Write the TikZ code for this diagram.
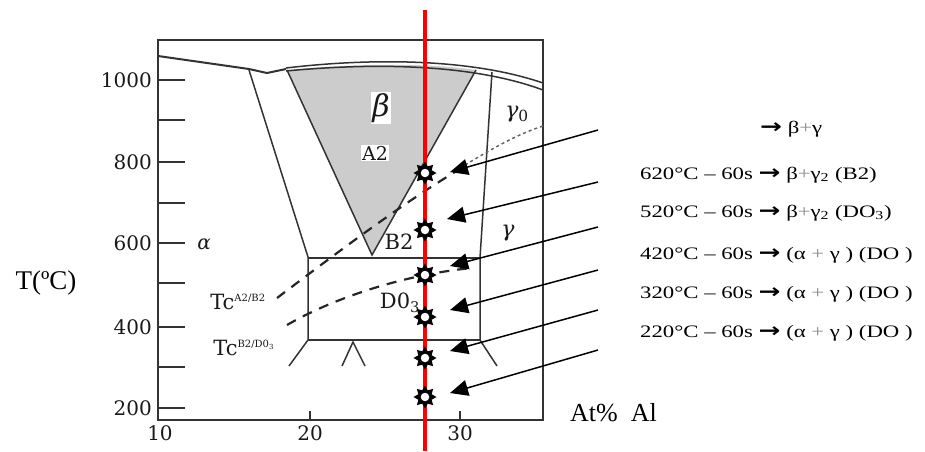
\documentclass[tikz,border=0pt]{standalone}
\usepackage{fontspec}
\setmainfont{Liberation Serif}
\newfontfamily\symf{DejaVu Sans}
\newfontfamily\scanf{DejaVu Serif}
\usetikzlibrary{arrows.meta,shapes.geometric}
\newcommand{\harr}{{\symf\bfseries\scalebox{1.15}{→}}}
\newcommand{\gplus}{{\color{black!45}+}}
\newcommand{\wide}[1]{\scalebox{1.3}[1]{#1}}
\begin{document}
\begin{tikzpicture}[x=1pt,y=-1pt,
 ph/.style={draw=black!80,line width=1.5pt},
 tick/.style={draw=black!80,line width=1.5pt},
 ylab/.style={font=\scanf\fontsize{20}{20}\selectfont,anchor=east,inner sep=0,text=black!90},
 xlab/.style={font=\scanf\fontsize{20}{20}\selectfont,anchor=north,inner sep=0,text=black!90},
 plab/.style={font=\scanf\fontsize{21}{21}\selectfont,inner sep=1pt,text=black!90},
 tcdash/.style={draw=black!85,line width=2.2pt,dash pattern=on 10pt off 8pt},
 rlab/.style={font=\fontsize{17.5}{17.5}\selectfont,anchor=base west,inner sep=0},
 hotstar/.style={star,star points=8,star point ratio=1.6,minimum size=23pt,inner sep=0,fill=black},
 hole/.style={circle,fill=white,minimum size=8.5pt,inner sep=0},
 callout/.style={draw=black,line width=1.5pt,-{Triangle[length=18pt,width=16pt]}},
]
\useasboundingbox (0,0) rectangle (925,451);

% shaded beta region
\fill[gray!40] (287,70) .. controls (360,63) and (430,63) .. (476,70) -- (372,255) -- cycle;
\draw[ph] (287,70) -- (372,255) -- (476,70);

% frame
\draw[ph,line width=1.2pt] (158,40) rectangle (543,420);
\draw[ph,line width=1.8pt] (158,420) -- (543,420);
\draw[ph,line width=1.8pt] (158,40) -- (158,420);

% liquidus / solidus
\draw[ph,line width=2pt] (158,56) -- (249,69) -- (267,73) -- (286,69);
\draw[ph] (286,68) .. controls (370,58) and (470,58) .. (543,83);
\draw[ph] (286,71) .. controls (370,63) and (470,63) .. (543,90);

% phase boundaries
\draw[ph] (249,70) -- (308,257) -- (308,340) -- (289,366);
\draw[ph] (308,258) -- (480,258);
\draw[ph] (492,72) -- (480,258) -- (480,340);
\draw[ph] (308,340) -- (480,340);
\draw[ph] (480,340) -- (497,366);
\draw[ph] (342,366) -- (353,342) -- (365,366);

% ticks
\foreach \yy in {80,120,162,203,243,283,327,367,408}
  \draw[tick] (158,\yy) -- (185,\yy);
\draw[tick] (310,420) -- (310,411);
\draw[tick] (460,420) -- (460,411);

% tick labels
\node[ylab] (y1000) at (152,80) {1000};
\node[ylab] (y800) at (152,162) {800};
\node[ylab] (y600) at (152,243) {600};
\node[ylab] (y400) at (152,327) {400};
\node[ylab] (y200) at (152,408) {200};
\node[xlab] (x10) at (160,425) {10};
\node[xlab] (x20) at (310,425) {20};
\node[xlab] (x30) at (460,425) {30};

% Tc lines
\draw[tcdash] (277,298) .. controls (330,258) and (400,205) .. (455,172);
\draw[black!60,line width=1.5pt,dash pattern=on 3pt off 3pt] (460,168) .. controls (490,150) and (515,135) .. (543,126);
\draw[tcdash] (287,325) .. controls (330,300) and (400,275) .. (472,268);

% phase labels
\node[plab,fill=white,font=\scanf\itshape\fontsize{30}{30}\selectfont] (beta) at (381,108) {β};
\node[plab,fill=white,font=\scanf\fontsize{19}{19}\selectfont] (a2) at (375,153) {A2};
\node[plab] (b2) at (399,242) {B2};
\node[plab] (d03) at (400,303) {D0\textsubscript{3}};
\node[plab,font=\scanf\itshape\fontsize{20}{20}\selectfont] (alpha) at (204,244) {α};
\node[plab,font=\scanf\itshape\fontsize{22}{22}\selectfont] (gamma) at (508,233) {γ};
\node[plab,font=\scanf\itshape\fontsize{22}{22}\selectfont] (gamma0) at (517,114) {γ\textsubscript{\upshape 0}};
\node[plab] (tc1) at (238,302) {Tc\textsuperscript{\fontsize{10}{10}\selectfont A2/B2}};
\node[plab] (tc2) at (244,348) {Tc\textsuperscript{\fontsize{10}{10}\selectfont B2/D0\textsubscript{3}}};

% axis titles
\node[font=\fontsize{27}{27}\selectfont,inner sep=0] (tlabel) at (46,283) {T(ºC)};
\node[font=\fontsize{26}{26}\selectfont,inner sep=0,anchor=west] (allabel) at (570,413) {At\%\ \ Al};

% red composition line
\coordinate (r1) at (425,10);
\coordinate (r2) at (425,451);
\draw[red,line width=4pt] (r1) -- (r2);

% stars
\foreach \n/\yy in {1/173,2/230,3/275,4/317,5/358,6/397}{
  \node[hotstar] (s\n) at (425,\yy) {};
  \node[hole] (h\n) at (s\n) {};
}

% callout arrows
\coordinate (t1) at (598,130); \coordinate (p1) at (450,172);
\coordinate (t2) at (598,182); \coordinate (p2) at (447,219);
\coordinate (t3) at (598,227); \coordinate (p3) at (450,266);
\coordinate (t4) at (598,270); \coordinate (p4) at (450,310);
\coordinate (t5) at (598,310); \coordinate (p5) at (450,351);
\coordinate (t6) at (598,350); \coordinate (p6) at (450,393);
\foreach \n in {1,...,6} \draw[callout] (t\n) -- (p\n);

% right labels
\node[rlab] (l1) at (760,133) {\wide{\harr\ β\gplus γ}};
\node[rlab] (l2) at (640,179) {\wide{620°C – 60s \harr\ β\gplus γ\textsubscript{2} (B2)}};
\node[rlab] (l3) at (640,217) {\wide{520°C – 60s \harr\ β\gplus γ\textsubscript{2} (DO\textsubscript{3})}};
\node[rlab] (l4) at (640,259) {\wide{420°C – 60s \harr\ (α \gplus\ γ ) (DO )}};
\node[rlab] (l5) at (640,298) {\wide{320°C – 60s \harr\ (α \gplus\ γ ) (DO )}};
\node[rlab] (l6) at (640,337) {\wide{220°C – 60s \harr\ (α \gplus\ γ ) (DO )}};
\end{tikzpicture}
\end{document}
